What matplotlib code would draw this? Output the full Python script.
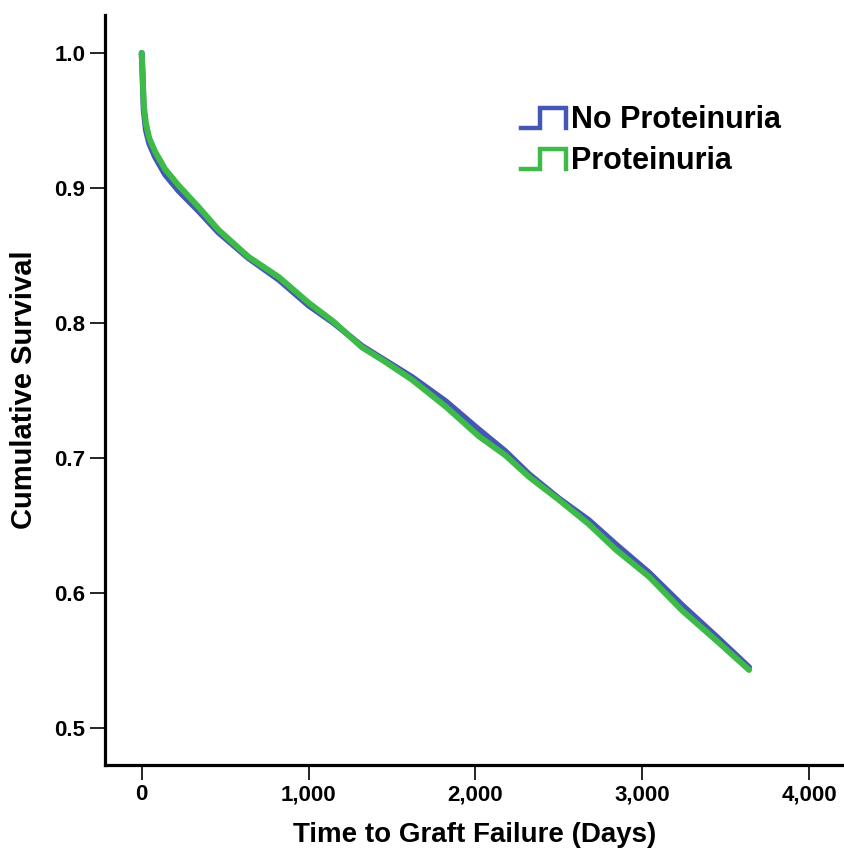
import matplotlib
matplotlib.use("Agg")
import matplotlib.pyplot as plt
from matplotlib.legend_handler import HandlerBase
from matplotlib.lines import Line2D

plt.rcParams["font.family"] = ["Liberation Sans", "DejaVu Sans"]
plt.rcParams["font.weight"] = "bold"

# Kaplan-Meier estimates read at selected days
days_no = [0, 5, 12, 25, 45, 80, 140, 220, 340, 460, 640, 822, 1000, 1150, 1320,
           1450, 1620, 1823, 2022, 2180, 2322, 2501, 2680, 2843, 3042, 3240, 3443, 3641]
surv_no = [1.000, 0.984, 0.958, 0.943, 0.933, 0.923, 0.910, 0.898, 0.883, 0.867,
           0.848, 0.832, 0.813, 0.800, 0.783, 0.773, 0.760, 0.742, 0.721, 0.705,
           0.688, 0.670, 0.654, 0.636, 0.615, 0.591, 0.568, 0.545]

days_pro = [0, 5, 12, 25, 45, 80, 140, 220, 340, 460, 640, 822, 1000, 1150, 1320,
            1450, 1620, 1823, 2022, 2180, 2322, 2501, 2680, 2843, 3042, 3240, 3443, 3641]
surv_pro = [1.000, 0.985, 0.962, 0.948, 0.937, 0.927, 0.914, 0.902, 0.886, 0.869,
            0.849, 0.834, 0.815, 0.801, 0.782, 0.772, 0.758, 0.738, 0.716, 0.702,
            0.686, 0.669, 0.651, 0.632, 0.612, 0.587, 0.565, 0.543]

series_labels = ["No Proteinuria", "Proteinuria"]
colors = ["#4457B4", "#3DBA48"]
x_ticks = [0, 1000, 2000, 3000, 4000]
x_ticklabels = ["0", "1,000", "2,000", "3,000", "4,000"]
y_ticks = [0.5, 0.6, 0.7, 0.8, 0.9, 1.0]


class StepHandler(HandlerBase):
    # little "_|‾|" step glyph like SPSS survival legends
    def create_artists(self, legend, orig_handle, xdescent, ydescent,
                       width, height, fontsize, trans):
        x0, x1 = -xdescent, -xdescent + width
        xm = x0 + 0.42 * width
        ylo, yhi = -ydescent + 0.0 * height, -ydescent + 0.95 * height
        line = Line2D([x0, xm, xm, x1, x1], [ylo, ylo, yhi, yhi, ylo],
                      color=orig_handle.get_color(), lw=3.2,
                      solid_joinstyle="miter", transform=trans)
        return [line]


fig = plt.figure(figsize=(8.45, 8.56), dpi=100)
ax = fig.add_axes([105 / 845, 1 - 765 / 856, 1 - 105 / 845, 750 / 856])

h1, = ax.plot(days_no, surv_no, color=colors[0], lw=4.3, solid_capstyle="round",
              label=series_labels[0])
h2, = ax.plot(days_pro, surv_pro, color=colors[1], lw=4.3, solid_capstyle="round",
              label=series_labels[1])

ax.set_xlim(-220, 4216)
ax.set_ylim(0.4726, 1.0281)
ax.set_xticks(x_ticks)
ax.set_xticklabels(x_ticklabels)
ax.set_yticks(y_ticks)
ax.set_yticklabels([f"{v:.1f}" for v in y_ticks])

for side in ["top", "right"]:
    ax.spines[side].set_visible(False)
for side in ["left", "bottom"]:
    ax.spines[side].set_linewidth(2.3)
ax.tick_params(axis="both", length=11, width=1.2, labelsize=16, pad=3, color="black")

ax.set_xlabel("Time to Graft Failure (Days)", fontsize=20, fontweight="bold", labelpad=12)
ax.set_ylabel("Cumulative Survival", fontsize=21, fontweight="bold", labelpad=12)

leg = ax.legend(handles=[h1, h2], handler_map={Line2D: StepHandler()},
                loc="upper left", bbox_to_anchor=(0.545, 0.896), frameon=False,
                prop={"size": 22, "weight": "bold"}, handlelength=1.5,
                handletextpad=0.15, labelspacing=0.35, borderaxespad=0)

fig.savefig("out.png", dpi=100)
